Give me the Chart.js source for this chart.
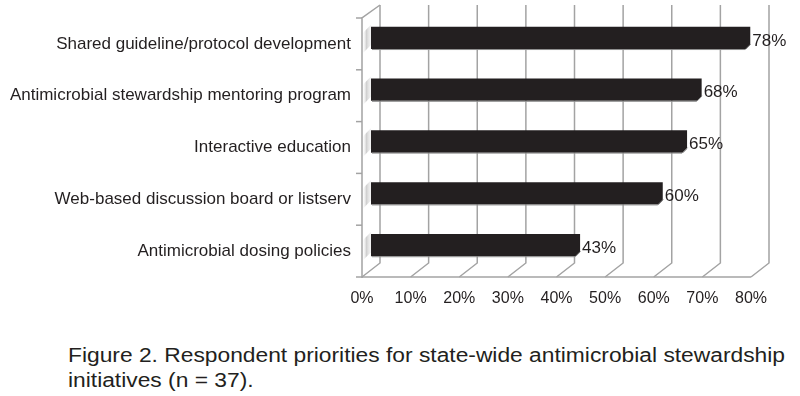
<!DOCTYPE html>
<html>
<head>
<meta charset="utf-8">
<script src="https://cdn.jsdelivr.net/npm/chart.js@4/dist/chart.umd.min.js"></script>
<style>
  html,body{margin:0;padding:0;background:#fff;}
  #wrap{position:relative;width:800px;height:396px;overflow:hidden;}
  #c{position:absolute;left:0;top:0;}
  .cap{position:absolute;left:68px;color:#231f20;white-space:nowrap;
       font-family:"Liberation Sans",Arial,sans-serif;font-size:20px;line-height:25px;
       transform-origin:0 0;}
</style>
</head>
<body>
<div id="wrap">
  <canvas id="c" width="800" height="320"></canvas>
  <div class="cap" id="cap1" style="top:343px">Figure 2. Respondent priorities for state-wide antimicrobial stewardship</div>
  <div class="cap" id="cap2" style="top:368px">initiatives (n = 37).</div>
</div>
<script>
const categories = [
  "Shared guideline/protocol development",
  "Antimicrobial stewardship mentoring program",
  "Interactive education",
  "Web-based discussion board or listserv",
  "Antimicrobial dosing policies"
];
const values = [78, 68, 65, 60, 43];
const tickValues = [0, 10, 20, 30, 40, 50, 60, 70, 80];

const INK = '#231f20';
const GRID = '#a3a3a3';
const FONT = '"Liberation Sans", Arial, sans-serif';
const FDX = -9, FDY = 6;   // front plane offset from mid depth
const BDX = 9,  BDY = -8;  // back plane offset from mid depth
const WALL_TOP = 5;

// fit caption line 1 to the printed width
(function () {
  const c1 = document.getElementById('cap1'), c2 = document.getElementById('cap2');
  const w = c1.getBoundingClientRect().width;
  const s = 717 / w;
  c1.style.transform = 'scaleX(' + s + ')';
  c2.style.transform = 'scaleX(' + s + ')';
})();

const frame3d = {
  id: 'frame3d',
  beforeDatasetsDraw(chart) {
    const {ctx, chartArea} = chart;
    const xs = chart.scales.x, ys = chart.scales.y;
    const bottom = chartArea.bottom;
    ctx.save();
    ctx.strokeStyle = GRID;
    ctx.lineWidth = 1.5;
    tickValues.forEach(v => {
      const px = xs.getPixelForValue(v);
      ctx.beginPath();
      ctx.moveTo(px + BDX, WALL_TOP);
      ctx.lineTo(px + BDX, bottom + BDY);
      ctx.lineTo(px + FDX, bottom + FDY);
      ctx.stroke();
    });
    const f0 = xs.getPixelForValue(tickValues[0]) + FDX;
    const f1 = xs.getPixelForValue(tickValues[tickValues.length - 1]) + FDX;
    ctx.beginPath();
    ctx.moveTo(f0, bottom + FDY);
    ctx.lineTo(f1, bottom + FDY);
    ctx.stroke();
    const half = (ys.getPixelForValue(1) - ys.getPixelForValue(0)) / 2;
    const topFront = ys.getPixelForValue(0) - half + FDY;
    ctx.beginPath();
    ctx.moveTo(f0, bottom + FDY + 1);
    ctx.lineTo(f0, topFront);
    ctx.lineTo(xs.getPixelForValue(0) + BDX, WALL_TOP);
    ctx.stroke();
    for (let i = 0; i <= categories.length; i++) {
      const y = ys.getPixelForValue(i) - half + FDY;
      ctx.beginPath();
      ctx.moveTo(f0 - 6, y);
      ctx.lineTo(f0, y);
      ctx.stroke();
    }
    const meta = chart.getDatasetMeta(0);
    meta.data.forEach(bar => {
      const h = bar.height;
      const top = bar.y - h / 2, bot = bar.y + h / 2;
      const g = ctx.createLinearGradient(f0, 0, f0 + 9, 0);
      g.addColorStop(0, 'rgba(255,255,255,0)');
      g.addColorStop(0.5, 'rgba(170,170,170,0.55)');
      g.addColorStop(1, 'rgba(200,200,200,0.2)');
      ctx.fillStyle = g;
      ctx.beginPath();
      ctx.moveTo(f0 + 1, top + 6);
      ctx.lineTo(f0 + 9, top - 2);
      ctx.lineTo(f0 + 9, bot - 4);
      ctx.lineTo(f0 + 1, bot + 4);
      ctx.closePath();
      ctx.fill();
    });
    ctx.restore();
  },
  afterDatasetsDraw(chart) {
    const {ctx} = chart;
    const meta = chart.getDatasetMeta(0);
    ctx.save();
    meta.data.forEach((bar, i) => {
      const h = bar.height;
      const bot = bar.y + h / 2;
      ctx.fillStyle = '#ffffff';
      ctx.beginPath();
      ctx.moveTo(bar.x + 1, bot - 5);
      ctx.lineTo(bar.x + 1, bot + 1);
      ctx.lineTo(bar.x - 5, bot + 1);
      ctx.closePath();
      ctx.fill();
      ctx.strokeStyle = '#8c8c8c';
      ctx.lineWidth = 1;
      ctx.beginPath();
      ctx.moveTo(bar.base + 1, bot + 0.5);
      ctx.lineTo(bar.x - 5, bot + 0.5);
      ctx.lineTo(bar.x + 0.5, bot - 5);
      ctx.stroke();
      ctx.fillStyle = INK;
      ctx.font = '17px ' + FONT;
      ctx.textAlign = 'left';
      ctx.textBaseline = 'middle';
      ctx.fillText(values[i] + '%', bar.x + 2, bar.y + 3);
    });
    ctx.restore();
  }
};

new Chart(document.getElementById('c'), {
  type: 'bar',
  data: {
    labels: categories,
    datasets: [{
      data: values,
      backgroundColor: INK,
      borderWidth: 0,
      categoryPercentage: 1,
      barPercentage: 0.43
    }]
  },
  options: {
    indexAxis: 'y',
    responsive: false,
    animation: false,
    events: [],
    layout: { padding: { top: 12, right: 40, left: 0, bottom: 0 } },
    plugins: { legend: { display: false }, tooltip: { enabled: false } },
    scales: {
      x: {
        min: 0, max: 80,
        afterFit(s) { s.height = 49; },
        afterBuildTicks(s) { s.ticks = tickValues.map(v => ({ value: v })); },
        grid: { display: false, drawTicks: false },
        border: { display: false },
        ticks: {
          callback: v => v + '%',
          color: INK,
          font: { family: FONT, size: 16 },
          padding: 18,
          labelOffset: -9,
          maxRotation: 0,
          autoSkip: false
        }
      },
      y: {
        afterFit(s) { s.width = 371; s.paddingTop = 0; s.paddingBottom = 0; },
        grid: { display: false, drawTicks: false },
        border: { display: false },
        ticks: {
          color: INK,
          font: { family: FONT, size: 17 },
          padding: 20,
          labelOffset: 6,
          autoSkip: false
        }
      }
    }
  },
  plugins: [frame3d]
});
</script>
</body>
</html>
